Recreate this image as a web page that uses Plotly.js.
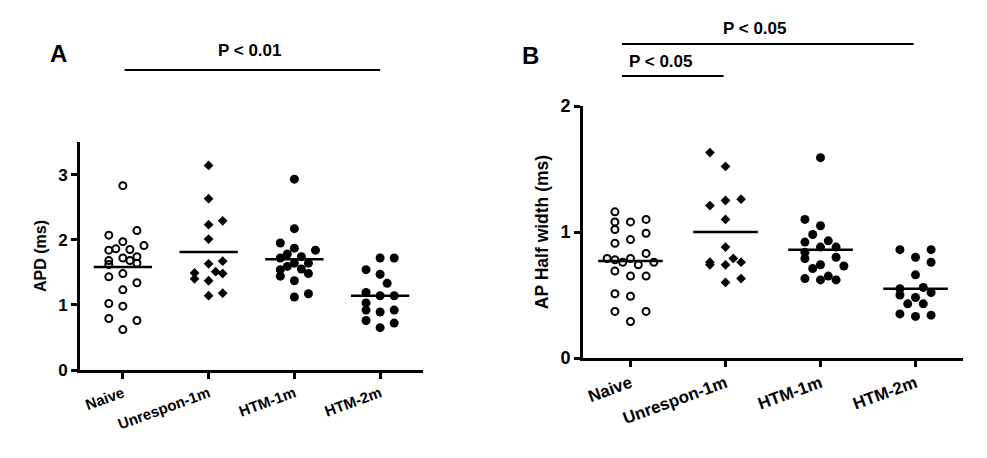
<!DOCTYPE html>
<html>
<head>
<meta charset="utf-8">
<script src="https://cdn.plot.ly/plotly-3.0.1.min.js"></script>
<style>html,body{margin:0;padding:0;background:#fff;}#chart{width:987px;height:458px;}</style>
</head>
<body>
<div id="chart"></div>
<script>
// ---------- data ----------
const categories = ['Naive', 'Unrespon-1m', 'HTM-1m', 'HTM-2m'];

// Panel A: APD (ms)
const apdNaive    = [2.83,2.07,2.14,1.97,1.91,1.84,1.86,1.85,1.68,1.72,1.74,1.68,1.62,1.64,1.43,1.48,1.34,1.23,1.02,0.98,0.79,0.76,0.62];
const apdNaiveCol = [0,-2,2,0,3,-2,-1,1,-2,0,2,1,-2,2,-2,0,2,0,-2,0,-2,2,0];
const apdUnrespon    = [3.14,2.63,2.23,2.29,2.01,1.63,1.67,1.49,1.40,1.51,1.48,1.37,1.14,1.18];
const apdUnresponCol = [0,0,0,2,0,0,2,-2,-2,1,2,0,0,2];
const apdHtm1    = [2.93,2.17,1.95,1.87,1.84,1.78,1.72,1.74,1.64,1.64,1.59,1.54,1.55,1.44,1.48,1.37,1.12,1.17];
const apdHtm1Col = [0,0,-2,0,3,-1,-2,1,0,2,-1,-2,1,-2,2,0,0,2];
const apdHtm2    = [1.72,1.72,1.54,1.47,1.33,1.19,1.14,1.14,1.03,0.92,0.89,0.92,0.76,0.72,0.65];
const apdHtm2Col = [0,2,-2,0,1,-2,0,2,-2,-2,0,2,-2,2,0];
const apdMeans = [1.58, 1.81, 1.70, 1.14];

// Panel B: AP half width (ms)
const hwNaive    = [1.16,1.08,1.08,1.10,1.02,0.99,0.94,0.91,0.83,0.79,0.78,0.76,0.79,0.74,0.76,0.69,0.65,0.65,0.51,0.49,0.37,0.37,0.29];
const hwNaiveCol = [-2,-2,0,2,-2,2,0,-2,2,-3,-2,-1,0,1,3,-2,0,2,-2,0,-2,2,0];
const hwUnrespon    = [1.63,1.52,1.21,1.25,1.26,1.10,0.88,0.76,0.74,0.74,0.79,0.76,0.60,0.63];
const hwUnresponCol = [-2,0,-2,0,2,0,0,-2,-2,0,1,2,0,2];
const hwHtm1    = [1.59,1.10,1.05,0.98,0.92,0.93,0.88,0.88,0.84,0.80,0.79,0.74,0.71,0.73,0.63,0.62,0.65,0.62];
const hwHtm1Col = [0,-2,0,-1,-2,1,0,2,-2,2,-2,0,-1,3,-2,0,1,2];
const hwHtm2    = [0.86,0.86,0.80,0.76,0.66,0.55,0.56,0.52,0.50,0.48,0.43,0.43,0.35,0.33,0.34];
const hwHtm2Col = [-2,2,0,2,0,-2,1,2,-2,0,1,-1,-2,0,2];
const hwMeans = [0.77, 1.00, 0.86, 0.55];

// ---------- styling ----------
const FONT = 'Liberation Sans, Arial, Helvetica, sans-serif';
const COL_STEP = 0.082;     // horizontal spacing of scatter columns (category units)
const MEAN_HALF = 0.34;     // half-length of mean bar (category units)
const markerStyles = [
  {symbol: 'circle-open', size: 7, color: '#000', line: {color: '#000', width: 2}},
  {symbol: 'diamond', size: 7.5, color: '#000'},
  {symbol: 'circle', size: 9, color: '#000'},
  {symbol: 'circle', size: 9, color: '#000'}
];

function groupTraces(groups, cols, means, xa, ya) {
  const traces = [];
  groups.forEach((vals, gi) => {
    traces.push({
      type: 'scatter', mode: 'markers', xaxis: xa, yaxis: ya,
      x: vals.map((v, i) => gi + cols[gi][i] * COL_STEP),
      y: vals,
      marker: markerStyles[gi],
      hoverinfo: 'y', showlegend: false
    });
  });
  means.forEach((m, gi) => {
    traces.push({
      type: 'scatter', mode: 'lines', xaxis: xa, yaxis: ya,
      x: [gi - MEAN_HALF, gi + MEAN_HALF], y: [m, m],
      line: {color: '#000', width: 2.5}, hoverinfo: 'skip', showlegend: false
    });
  });
  return traces;
}

const data = [].concat(
  groupTraces([apdNaive, apdUnrespon, apdHtm1, apdHtm2],
              [apdNaiveCol, apdUnresponCol, apdHtm1Col, apdHtm2Col], apdMeans, 'x', 'y'),
  groupTraces([hwNaive, hwUnrespon, hwHtm1, hwHtm2],
              [hwNaiveCol, hwUnresponCol, hwHtm1Col, hwHtm2Col], hwMeans, 'x2', 'y2')
);

const W = 987, H = 458;
const px = v => v / W, py = v => 1 - v / H;

function xAxis(domain, anchor, fsize) {
  return {
    domain: domain, anchor: anchor, range: [-0.5, 3.5],
    tickvals: [0, 1, 2, 3], ticktext: categories, tickangle: -20,
    showline: true, linewidth: 3, linecolor: '#000', mirror: false,
    ticks: 'outside', ticklen: 6, tickwidth: 3, tickcolor: '#000',
    showgrid: false, zeroline: false, automargin: false,
    tickfont: {family: FONT, size: fsize, color: '#000', weight: 'bold'}
  };
}
function yAxis(domain, anchor, range, title, fsize, tsize) {
  return {
    domain: domain, anchor: anchor, range: range, dtick: 1, tick0: 0,
    showline: true, linewidth: 3, linecolor: '#000',
    ticks: 'outside', ticklen: 6, tickwidth: 3, tickcolor: '#000',
    showgrid: false, zeroline: false, automargin: false,
    tickfont: {family: FONT, size: fsize, color: '#000', weight: 'bold'},
    title: {text: title, font: {family: FONT, size: tsize, color: '#000', weight: 'bold'}, standoff: 8}
  };
}

const annFont = (s) => ({family: FONT, size: s, color: '#000', weight: 'bold'});
const layout = {
  width: W, height: H,
  margin: {l: 0, r: 0, t: 0, b: 0},
  paper_bgcolor: '#fff', plot_bgcolor: '#fff',
  showlegend: false,
  xaxis:  xAxis([px(80), px(423)], 'y', 15),
  yaxis:  yAxis([py(370), py(142)], 'x', [0, 3.5], 'APD (ms)', 17, 16),
  xaxis2: xAxis([px(583), px(963)], 'y2', 17),
  yaxis2: yAxis([py(358), py(106)], 'x2', [0, 2], 'AP Half width (ms)', 18, 17.5),
  shapes: [
    {type: 'line', xref: 'x', yref: 'paper', x0: 0.02, x1: 3.0, y0: py(70), y1: py(70), line: {color: '#000', width: 2}},
    {type: 'line', xref: 'x2', yref: 'paper', x0: -0.09, x1: 2.98, y0: py(44), y1: py(44), line: {color: '#000', width: 2}},
    {type: 'line', xref: 'x2', yref: 'paper', x0: -0.09, x1: 0.98, y0: py(76), y1: py(76), line: {color: '#000', width: 2}}
  ],
  annotations: [
    {text: 'A', xref: 'paper', yref: 'paper', x: px(58), y: py(54), showarrow: false, font: annFont(24), xanchor: 'center', yanchor: 'middle'},
    {text: 'B', xref: 'paper', yref: 'paper', x: px(530), y: py(56), showarrow: false, font: annFont(24), xanchor: 'center', yanchor: 'middle'},
    {text: 'P < 0.01', xref: 'paper', yref: 'paper', x: px(250), y: py(51), showarrow: false, font: annFont(17), xanchor: 'center', yanchor: 'middle'},
    {text: 'P < 0.05', xref: 'paper', yref: 'paper', x: px(755), y: py(28), showarrow: false, font: annFont(17), xanchor: 'center', yanchor: 'middle'},
    {text: 'P < 0.05', xref: 'paper', yref: 'paper', x: px(661), y: py(62), showarrow: false, font: annFont(17), xanchor: 'center', yanchor: 'middle'}
  ]
};

Plotly.newPlot('chart', data, layout, {staticPlot: true, displayModeBar: false});
</script>
</body>
</html>
